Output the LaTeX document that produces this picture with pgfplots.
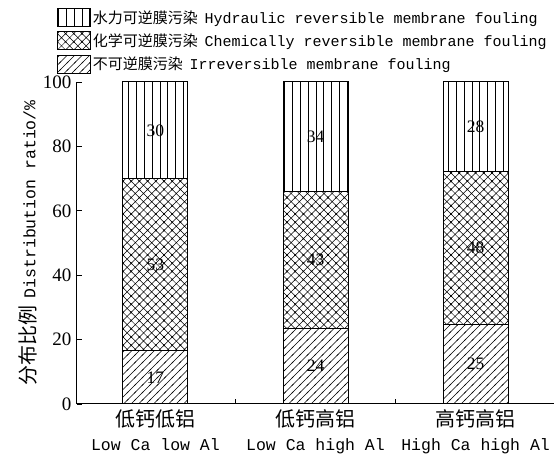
\documentclass[border=0pt]{standalone}
\usepackage{fontspec}
\setmainfont{Liberation Serif}
\setmonofont{Liberation Mono}
\newfontfamily\cjk{Noto Sans CJK SC}
\usepackage{pgfplots}
\pgfplotsset{compat=1.18}
\usetikzlibrary{patterns}

% hatch patterns
\pgfdeclarepatternformonly{vlines}{\pgfqpoint{-1pt}{-1pt}}{\pgfqpoint{8.8pt}{8.8pt}}{\pgfqpoint{7.8pt}{7.8pt}}{%
  \pgfsetlinewidth{0.5pt}%
  \pgfpathmoveto{\pgfqpoint{3.9pt}{-1pt}}\pgfpathlineto{\pgfqpoint{3.9pt}{8.8pt}}%
  \pgfusepath{stroke}}
\pgfdeclarepatternformonly{nelines}{\pgfqpoint{-1pt}{-1pt}}{\pgfqpoint{8.5pt}{8.5pt}}{\pgfqpoint{7.5pt}{7.5pt}}{%
  \pgfsetlinewidth{0.5pt}%
  \pgfpathmoveto{\pgfqpoint{-1pt}{-1pt}}\pgfpathlineto{\pgfqpoint{8.5pt}{8.5pt}}%
  \pgfusepath{stroke}}
\pgfdeclarepatternformonly{xhatch}{\pgfqpoint{-1pt}{-1pt}}{\pgfqpoint{9.2pt}{9.2pt}}{\pgfqpoint{8.2pt}{8.2pt}}{%
  \pgfsetlinewidth{0.5pt}%
  \pgfpathmoveto{\pgfqpoint{-1pt}{-1pt}}\pgfpathlineto{\pgfqpoint{9.2pt}{9.2pt}}%
  \pgfpathmoveto{\pgfqpoint{-1pt}{9.2pt}}\pgfpathlineto{\pgfqpoint{9.2pt}{-1pt}}%
  \pgfusepath{stroke}}

\newcommand{\labfont}{\fontsize{17.5}{20}\selectfont}

\begin{document}
\begin{tikzpicture}[lab/.style={font=\labfont}]
\begin{axis}[
  scale only axis,
  width=477pt, height=322pt,
  ybar stacked,
  bar width=65pt,
  xmin=-0.49, xmax=2.49,
  ymin=0, ymax=100,
  axis lines=left,
  axis line style={-, line width=1pt},
  tick align=inside,
  major tick length=5pt,
  minor tick length=5pt,
  tick style={black, line width=0.8pt},
  ytick={0,20,40,60,80,100},
  yticklabels={0,20,40,60,80,100},
  yticklabel style={font=\fontsize{19}{21}\selectfont, xshift=-2pt},
  xtick={0,1,2},
  minor xtick={0.5,1.5},
  major x tick style={draw=none},
  xticklabels={
    {{\fontsize{20}{24}\selectfont\cjk 低钙低铝}\\{\ttfamily Low Ca low Al}},
    {{\fontsize{20}{24}\selectfont\cjk 低钙高铝}\\{\ttfamily Low Ca high Al}},
    {{\fontsize{20}{24}\selectfont\cjk 高钙高铝}\\{\ttfamily High Ca high Al}}},
  xticklabel style={align=center, font=\fontsize{16.5}{24}\selectfont, yshift=-2pt},
  ylabel={{\fontsize{20}{24}\selectfont\cjk 分布比例}\hspace{0.45em}{\ttfamily Distribution ratio/\%}},
  ylabel style={at={(axis description cs:-0.103,0.5)}, anchor=center,
    font=\fontsize{16.5}{20}\selectfont},
  legend image code/.code={\draw[#1, line width=0.8pt] (0pt,-9pt) rectangle (33pt,9pt);},
  reverse legend,
  legend style={at={(axis description cs:-0.042,1.23)}, anchor=north west,
    draw=none, fill=none, inner sep=0pt, row sep=4.5pt,
    font=\fontsize{15}{17}\selectfont, cells={anchor=west}},
]
% irreversible
\addplot[draw=black, line width=1pt, pattern=nelines]
  coordinates {(0,16.5) (1,23.6) (2,24.7)};
\addlegendentry{{\cjk 不可逆膜污染}\hspace{0.45em}{\ttfamily Irreversible membrane fouling}}
% chemically reversible
\addplot[draw=black, line width=1pt, pattern=xhatch]
  coordinates {(0,53.4) (1,42.3) (2,47.4)};
\addlegendentry{{\cjk 化学可逆膜污染}\hspace{0.45em}{\ttfamily Chemically reversible membrane fouling}}
% hydraulic reversible
\addplot[draw=black, line width=1pt, pattern=vlines]
  coordinates {(0,30.1) (1,34.1) (2,27.9)};
\addlegendentry{{\cjk 水力可逆膜污染}\hspace{0.45em}{\ttfamily Hydraulic reversible membrane fouling}}

\node[lab] at (axis cs:0,8.25) {17};
\node[lab] at (axis cs:0,43.2) {53};
\node[lab] at (axis cs:0,84.95) {30};
\node[lab] at (axis cs:1,11.8) {24};
\node[lab] at (axis cs:1,44.75) {43};
\node[lab] at (axis cs:1,83.0) {34};
\node[lab] at (axis cs:2,12.35) {25};
\node[lab] at (axis cs:2,48.4) {48};
\node[lab] at (axis cs:2,86.05) {28};
\end{axis}
\pgfresetboundingbox
\path[use as bounding box] ([xshift=-77pt,yshift=-56pt]current axis.south west) rectangle ++(554pt,460pt);
\end{tikzpicture}
\end{document}
